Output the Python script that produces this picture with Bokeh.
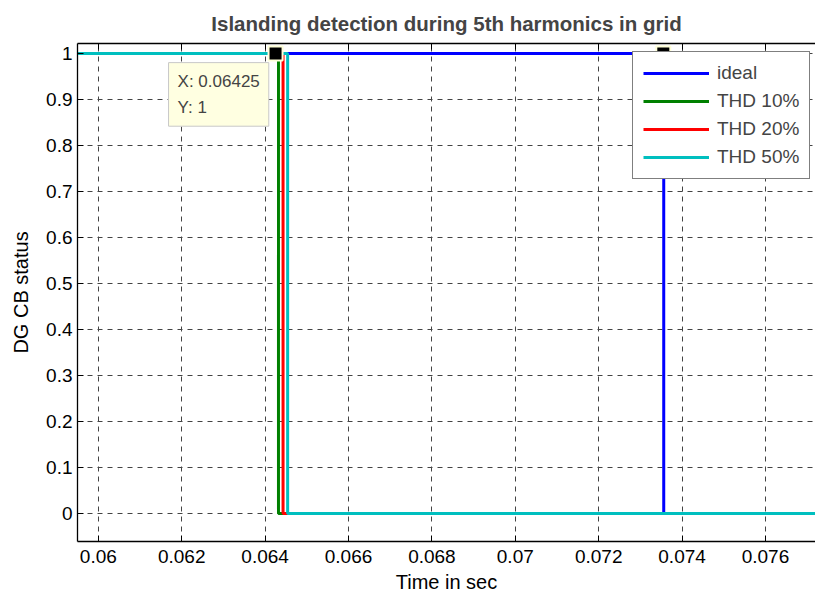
from bokeh.plotting import figure
from bokeh.models import (Range1d, LinearAxis, FixedTicker, Legend, LegendItem, Label,
                          CustomJSTickFormatter)
from bokeh.embed import file_html
from bokeh.resources import INLINE

# ---- data ----
ideal_t = [0.059, 0.07356, 0.07356, 0.078]
ideal_s = [1, 1, 0, 0]
thd10_t = [0.059, 0.06432, 0.06432, 0.078]
thd10_s = [1, 1, 0, 0]
thd20_t = [0.059, 0.06443, 0.06443, 0.078]
thd20_s = [1, 1, 0, 0]
thd50_t = [0.059, 0.06454, 0.06454, 0.078]
thd50_s = [1, 1, 0, 0]

series_names = ["ideal", "THD 10%", "THD 20%", "THD 50%"]
series_colors = ["#0000FF", "#008000", "#FF0000", "#00BFBF"]

tip_x = [0.06425, 0.07355]
tip_y = [1, 1]
tip_text = "X: 0.06425\nY: 1"

x_ticks = [0.06, 0.062, 0.064, 0.066, 0.068, 0.07, 0.072, 0.074, 0.076]
x_tick_labels = ["0.06", "0.062", "0.064", "0.066", "0.068", "0.07", "0.072", "0.074", "0.076"]
y_ticks = [0, 0.1, 0.2, 0.3, 0.4, 0.5, 0.6, 0.7, 0.8, 0.9, 1]
y_tick_labels = ["0", "0.1", "0.2", "0.3", "0.4", "0.5", "0.6", "0.7", "0.8", "0.9", "1"]

FONT = "Liberation Sans"

p = figure(width=815, height=595, output_backend="svg", toolbar_location=None,
           x_range=Range1d(0.0595, 0.0772), y_range=Range1d(-0.061, 1.022),
           min_border_left=77, min_border_right=0, min_border_top=43, min_border_bottom=54,
           x_axis_label="Time in sec", y_axis_label="DG CB status")
p.outline_line_color = None
p.background_fill_color = "white"
p.border_fill_color = "white"

p.title.text = "Islanding detection during 5th harmonics in grid"
p.title.align = "center"
p.title.text_font = FONT
p.title.text_font_size = "20.5px"
p.title.text_font_style = "bold"
p.title.offset = 0
p.title.standoff = 17

for ax in (p.xaxis[0], p.yaxis[0]):
    ax.major_label_text_font = FONT
    ax.major_label_text_font_size = "19px"
    ax.major_label_text_color = "black"
    ax.axis_label_text_font = FONT
    ax.axis_label_text_font_size = "20px"
    ax.axis_label_text_font_style = "normal"
    ax.axis_label_text_color = "black"
    ax.major_tick_in = 6
    ax.major_tick_out = 0
    ax.minor_tick_in = 0
    ax.minor_tick_out = 0
    ax.axis_line_color = "black"
    ax.axis_line_width = 1.3
    ax.major_tick_line_color = "black"

p.xaxis[0].ticker = FixedTicker(ticks=x_ticks)
p.xaxis[0].major_label_overrides = dict(zip(x_ticks, x_tick_labels))
p.xaxis[0].major_label_standoff = 8
p.xaxis[0].axis_label_standoff = 5
p.yaxis[0].ticker = FixedTicker(ticks=y_ticks)
p.yaxis[0].major_label_overrides = dict(zip(y_ticks, y_tick_labels))
p.yaxis[0].major_label_standoff = 5
p.yaxis[0].axis_label_standoff = 11

top_ax = LinearAxis(ticker=FixedTicker(ticks=x_ticks),
                    formatter=CustomJSTickFormatter(code="return '';"),
                    major_tick_in=6, major_tick_out=0, minor_tick_in=0, minor_tick_out=0,
                    axis_line_color="black", axis_line_width=1.3, major_label_standoff=0)
p.add_layout(top_ax, "above")

p.xgrid.ticker = FixedTicker(ticks=x_ticks)
p.ygrid.ticker = FixedTicker(ticks=y_ticks)
for g in (p.xgrid[0], p.ygrid[0]):
    g.grid_line_color = "#444444"
    g.grid_line_dash = "5 5"
    g.grid_line_width = 1

data = [(ideal_t, ideal_s), (thd10_t, thd10_s), (thd20_t, thd20_s), (thd50_t, thd50_s)]
renderers = []
for (t, s), c in zip(data, series_colors):
    r = p.line(t, s, line_color=c, line_width=3)
    renderers.append(r)

p.scatter(tip_x, tip_y, marker="square", size=14, fill_color="black",
          line_color="#FFFFD8", line_width=2)

tip = Label(x=tip_x[0], y=tip_y[0], x_offset=-107, y_offset=-9, text=tip_text,
            text_font=FONT, text_font_size="17px", text_align="left", text_baseline="top",
            text_line_height=1.4,
            background_fill_color="#FFFFE1", border_line_color="#C8C8C8",
            padding=9)
p.add_layout(tip)

legend = Legend(items=[LegendItem(label=n, renderers=[r]) for n, r in zip(series_names, renderers)],
                location=(555, 362), label_text_font=FONT, label_text_font_size="19px",
                glyph_width=66, glyph_height=22, label_height=22, label_standoff=8,
                spacing=6, padding=10, margin=0,
                border_line_color="black", border_line_width=1,
                background_fill_color="white", background_fill_alpha=1)
p.add_layout(legend, "center")

open("out.html", "w").write(file_html(p, INLINE))
